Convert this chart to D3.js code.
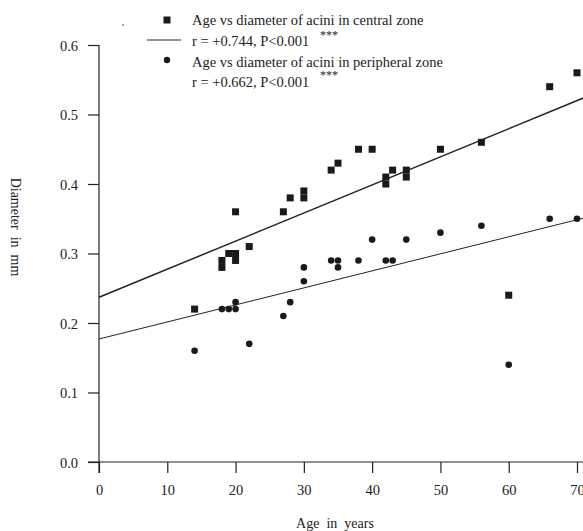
<!DOCTYPE html>
<html><head><meta charset="utf-8">
<script src="https://cdn.jsdelivr.net/npm/d3@7"></script>
<style>body{margin:0;background:#fff}svg{display:block}text{font-family:"Liberation Serif","Times New Roman",serif;fill:#222}</style>
</head><body>
<svg id="c" width="583" height="531"></svg>
<script>
const centralAge = [14,18,18,19,20,20,20,22,27,28,30,30,34,35,38,40,42,42,43,45,45,50,56,60,66,70];
const centralDiam = [0.22,0.29,0.28,0.30,0.30,0.29,0.36,0.31,0.36,0.38,0.39,0.38,0.42,0.43,0.45,0.45,0.41,0.40,0.42,0.42,0.41,0.45,0.46,0.24,0.54,0.56];
const periphAge = [14,18,19,20,20,22,27,28,30,30,34,35,35,38,40,42,43,45,50,56,60,66,70];
const periphDiam = [0.16,0.22,0.22,0.22,0.23,0.17,0.21,0.23,0.28,0.26,0.29,0.29,0.28,0.29,0.32,0.29,0.29,0.32,0.33,0.34,0.14,0.35,0.35];
const centralFit = [[0,0.237],[71,0.524]];
const periphFit = [[0,0.177],[71,0.351]];
const xTicks = [0,10,20,30,40,50,60,70];
const yTicks = [0.0,0.1,0.2,0.3,0.4,0.5,0.6];
const legendLabels = ["Age vs diameter of acini in central zone","r = +0.744, P<0.001","Age vs diameter of acini in peripheral zone","r = +0.662, P<0.001"];

const svg = d3.select("#c");
const x = d3.scaleLinear().domain([0,70]).range([99,577]);
const y = d3.scaleLinear().domain([0,0.6]).range([462,45]);
const ink = "#222";

// Y axis
const yAx = svg.append("g").attr("transform","translate(99,0)")
  .call(d3.axisLeft(y).tickValues(yTicks).tickFormat(d3.format(".1f")).tickSize(11).tickSizeOuter(0));
yAx.select(".domain").remove();
svg.append("line").attr("x1",99).attr("x2",99).attr("y1",y(0.6)).attr("y2",473).attr("stroke",ink).attr("stroke-width",1.2);
// X axis
const xAx = svg.append("g").attr("transform","translate(0,462)")
  .call(d3.axisBottom(x).tickValues(xTicks).tickSize(11).tickSizeOuter(0));
xAx.select(".domain").remove();
svg.append("line").attr("x1",88).attr("x2",583).attr("y1",462).attr("y2",462).attr("stroke",ink).attr("stroke-width",1.2);
[yAx,xAx].forEach(g=>{
  g.selectAll(".tick line").attr("stroke",ink).attr("stroke-width",1.2);
  g.selectAll(".tick text").attr("font-size",14.5).attr("font-family","Liberation Serif").attr("fill",ink);
});
yAx.selectAll(".tick text").attr("x",-21).attr("dy","0.35em");
xAx.selectAll(".tick text").attr("y",23).attr("dy","0.71em");

// axis titles
svg.append("text").attr("x",335).attr("y",528).attr("text-anchor","middle").attr("font-size",14).style("white-space","pre").text("Age  in  years");
svg.append("text").attr("transform","translate(11,227) rotate(90)").attr("text-anchor","middle").attr("font-size",14).style("white-space","pre").text("Diameter  in  mm");

// fit lines
const line = d3.line().x(d=>x(d[0])).y(d=>y(d[1]));
svg.append("path").attr("d",line(centralFit)).attr("stroke",ink).attr("stroke-width",1.5).attr("fill","none");
svg.append("path").attr("d",line(periphFit)).attr("stroke",ink).attr("stroke-width",1).attr("fill","none");

// points
const cData = centralAge.map((a,i)=>[a,centralDiam[i]]);
const pData = periphAge.map((a,i)=>[a,periphDiam[i]]);
svg.append("g").selectAll("rect").data(cData).join("rect")
  .attr("x",d=>x(d[0])-3.5).attr("y",d=>y(d[1])-3.5).attr("width",7).attr("height",7).attr("fill","#1a1a1a");
svg.append("g").selectAll("circle").data(pData).join("circle")
  .attr("cx",d=>x(d[0])).attr("cy",d=>y(d[1])).attr("r",3.3).attr("fill","#1a1a1a");

// legend
const lg = svg.append("g");
lg.append("line").attr("x1",122).attr("x2",124).attr("y1",25).attr("y2",25).attr("stroke","#555").attr("stroke-width",1);
lg.append("rect").attr("x",163.5).attr("y",16.5).attr("width",7).attr("height",7).attr("fill","#1a1a1a");
lg.append("line").attr("x1",147).attr("x2",181).attr("y1",40).attr("y2",40).attr("stroke",ink).attr("stroke-width",1.2);
lg.append("circle").attr("cx",167).attr("cy",60).attr("r",3.2).attr("fill","#1a1a1a");
const ly = [25,46,67,87];
legendLabels.forEach((t,i)=>{
  lg.append("text").attr("x",192).attr("y",ly[i]).attr("font-size",14.5).text(t);
});
lg.append("text").attr("x",320).attr("y",39).attr("font-size",12).text("***");
lg.append("text").attr("x",320).attr("y",79).attr("font-size",12).text("***");
</script>
</body></html>
